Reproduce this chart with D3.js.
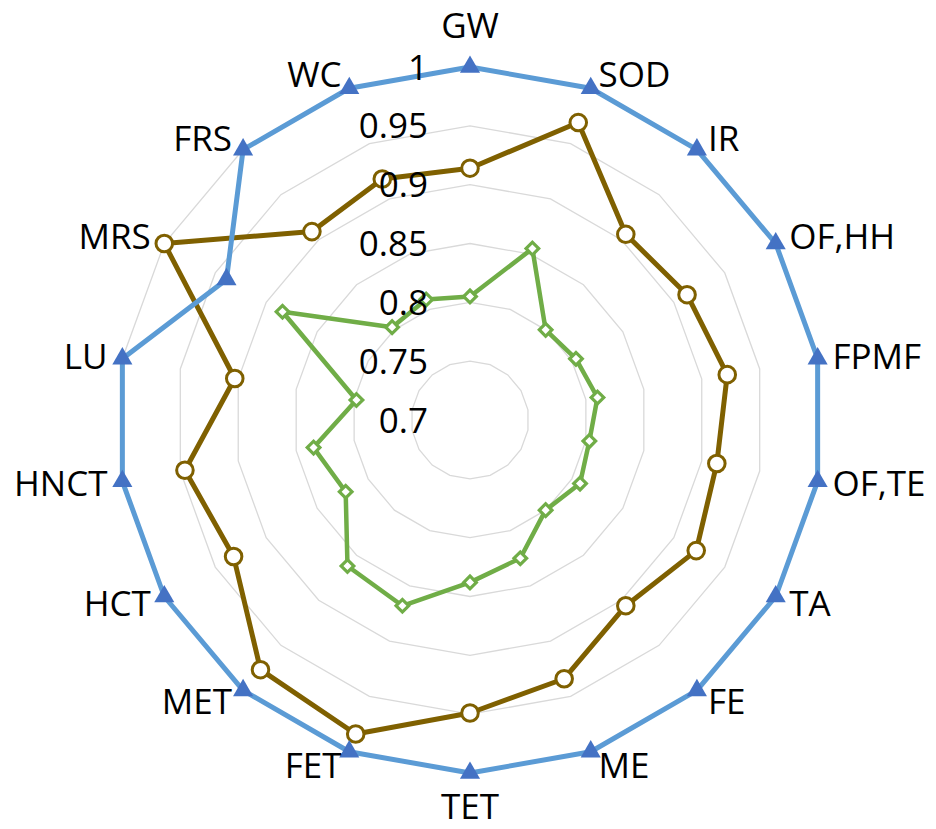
<!DOCTYPE html>
<html>
<head>
<meta charset="utf-8">
<script src="https://cdn.jsdelivr.net/npm/d3@7"></script>
<style>
  html, body { margin: 0; padding: 0; background: #ffffff; }
  svg { display: block; }
  text { font-family: "Open Sans", "Noto Sans", sans-serif; fill: #000; }
</style>
</head>
<body>
<svg id="chart" width="936" height="829"></svg>
<script>
const categories = ["GW","SOD","IR","OF,HH","FPMF","OF,TE","TA","FE","ME","TET","FET","MET","HCT","HNCT","LU","MRS","FRS","WC"];
const seriesBlue  = [1,1,1,1,1,1,1,1,1,1,1,1,1,1,1,0.939,1,1];
const seriesBrown = [0.914,0.969,0.906,0.913,0.922,0.913,0.922,0.906,0.934,0.949,0.984,0.977,0.932,0.946,0.903,1.0,0.909,0.918];
const seriesGreen = [0.805,0.855,0.800,0.804,0.810,0.803,0.808,0.800,0.825,0.838,0.868,0.862,0.822,0.835,0.798,0.884,0.803,0.809];
const tickValues = [0.7,0.75,0.8,0.85,0.9,0.95,1];
const tickLabels = ["0.7","0.75","0.8","0.85","0.9","0.95","1"];

const W = 936, H = 829;
const cx = 470, cy = 420, R = 353;
const fs = 35;

const svg = d3.select("#chart");
const g = svg.append("g").attr("transform", `translate(${cx},${cy})`);

const r = d3.scaleLinear().domain([0.7, 1]).range([0, R]);
const ang = d3.scaleLinear().domain([0, categories.length]).range([0, 2 * Math.PI]);

const radial = d3.lineRadial()
  .angle((d, i) => ang(i))
  .radius(d => r(d))
  .curve(d3.curveLinearClosed);

function pt(v, i) {
  const a = ang(i);
  return [Math.sin(a) * r(v), -Math.cos(a) * r(v)];
}

// grid rings
g.append("g").selectAll("path")
  .data(tickValues.filter(t => t > 0.7))
  .join("path")
  .attr("d", t => radial(categories.map(() => t)))
  .attr("fill", "none")
  .attr("stroke", "#d9d9d9")
  .attr("stroke-width", 1.3);

function drawSeries(values, color, width, symbolType, size, fill, stroke, sw, rot) {
  const sg = g.append("g");
  sg.append("path")
    .attr("d", radial(values))
    .attr("fill", "none")
    .attr("stroke", color)
    .attr("stroke-width", width)
    .attr("stroke-linejoin", "round");
  sg.selectAll("path.m")
    .data(values)
    .join("path")
    .attr("class", "m")
    .attr("d", d3.symbol().type(symbolType).size(size))
    .attr("transform", (d, i) => {
      const p = pt(d, i);
      return `translate(${p[0]},${p[1]}) rotate(${rot})`;
    })
    .attr("fill", fill)
    .attr("stroke", stroke)
    .attr("stroke-width", sw);
}

drawSeries(seriesGreen, "#70AD47", 4.5, d3.symbolSquare, 80, "#ffffff", "#70AD47", 3.2, 45);
drawSeries(seriesBrown, "#7F6000", 5, d3.symbolCircle, 216, "#ffffff", "#7F6000", 3, 0);
drawSeries(seriesBlue, "#5B9BD5", 5, d3.symbolTriangle, 175, "#4472C4", "none", 0, 0);

// category labels
const capH = 0.357 * fs;
g.append("g").selectAll("text")
  .data(categories)
  .join("text")
  .attr("font-size", fs)
  .each(function(c, i) {
    const a = ang(i);
    const s = Math.sin(a), co = Math.cos(a);
    const vx = s * R, vy = -co * R;
    let x, yc, anchor;
    if (Math.abs(s) < 0.1) {
      anchor = "middle";
      x = vx;
      yc = vy + (co > 0 ? -42 : 34);
    } else {
      anchor = s > 0 ? "start" : "end";
      x = vx + Math.sign(s) * (4 + 11 * Math.abs(s));
      yc = vy - co * 15;
    }
    d3.select(this)
      .attr("x", x)
      .attr("y", yc + capH)
      .attr("text-anchor", anchor)
      .text(c);
  });

// radial axis tick labels
g.append("g").selectAll("text")
  .data(tickValues)
  .join("text")
  .attr("font-size", fs)
  .attr("text-anchor", "end")
  .attr("x", -42)
  .attr("y", t => -r(t) + capH)
  .text((t, i) => tickLabels[i]);
</script>
</body>
</html>
